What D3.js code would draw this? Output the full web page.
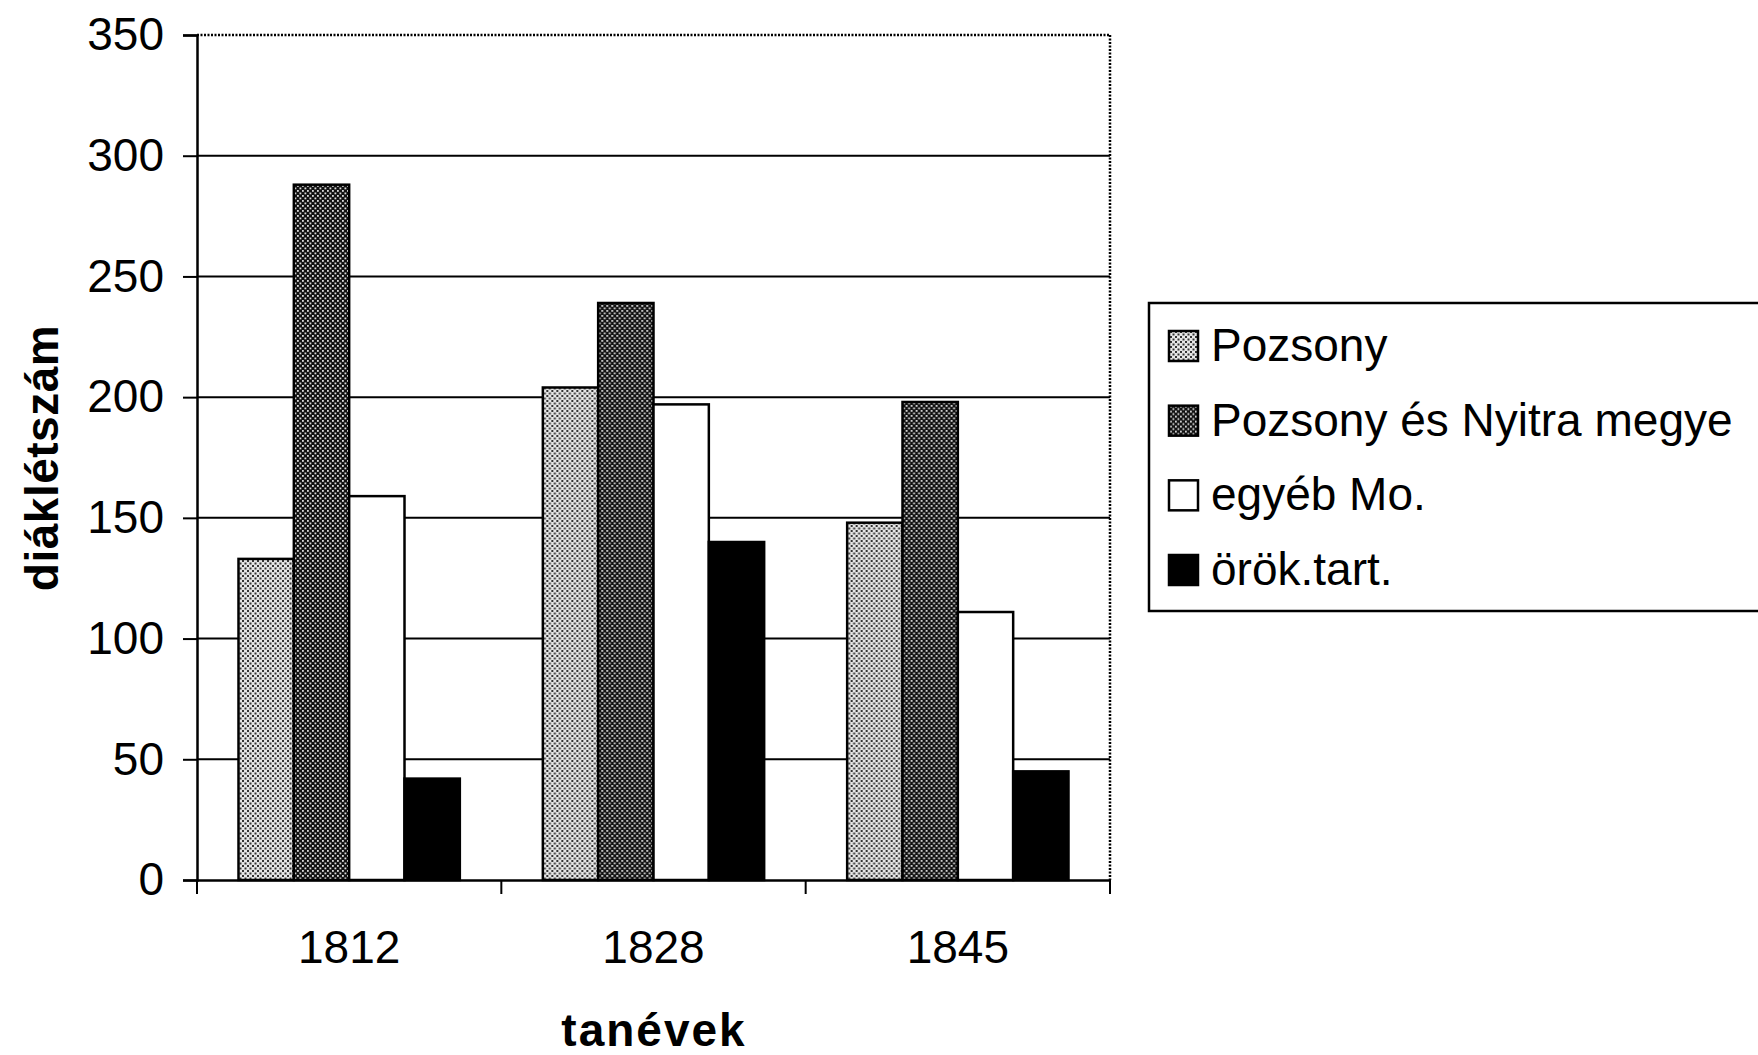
<!DOCTYPE html>
<html>
<head>
<meta charset="utf-8">
<script src="https://cdn.jsdelivr.net/npm/d3@7"></script>
<style>
  html, body { margin: 0; padding: 0; background: #fff; }
  svg { display: block; }
  text { font-family: "Liberation Sans", Arial, sans-serif; fill: #000; }
</style>
</head>
<body>
<svg id="chart" width="1758" height="1055"></svg>
<script>
const years = ["1812", "1828", "1845"];
const seriesNames = ["Pozsony", "Pozsony és Nyitra megye", "egyéb Mo.", "örök.tart."];
const pozsony = [133, 204, 148];
const pozsonyNyitra = [288, 239, 198];
const egyebMo = [159, 197, 111];
const orokTart = [42, 140, 45];
const yTicks = [0, 50, 100, 150, 200, 250, 300, 350];
const xTitle = "tanévek";
const yTitle = "diáklétszám";

(function () {
const seriesValues = [pozsony, pozsonyNyitra, egyebMo, orokTart];
const fills = ["url(#patLight)", "url(#patDark)", "#ffffff", "#000000"];

const svg = d3.select("#chart");
const defs = svg.append("defs");

const pl = defs.append("pattern").attr("id", "patLight")
  .attr("patternUnits", "userSpaceOnUse").attr("width", 5).attr("height", 5);
pl.append("rect").attr("width", 5).attr("height", 5).attr("fill", "#e6e6e6");
pl.append("rect").attr("x", 0).attr("y", 0).attr("width", 2).attr("height", 2).attr("fill", "#333");
pl.append("rect").attr("x", 2.5).attr("y", 2.5).attr("width", 2).attr("height", 2).attr("fill", "#333");

const pd = defs.append("pattern").attr("id", "patDark")
  .attr("patternUnits", "userSpaceOnUse").attr("width", 5).attr("height", 5);
pd.append("rect").attr("width", 5).attr("height", 5).attr("fill", "#111");
pd.append("rect").attr("x", 0).attr("y", 0).attr("width", 1.8).attr("height", 1.8).attr("fill", "#ddd");
pd.append("rect").attr("x", 2.5).attr("y", 2.5).attr("width", 1.8).attr("height", 1.8).attr("fill", "#ddd");

const pLeft = 197, pRight = 1110, pTop = 35, pBottom = 880;

const x = d3.scaleBand().domain(years).range([pLeft, pRight]).paddingInner(0).paddingOuter(0);
const xs = d3.scaleBand().domain(seriesNames).range([0, x.bandwidth()]).paddingInner(0).paddingOuter(0.75);
const y = d3.scaleLinear().domain([0, 350]).range([pBottom, pTop]);

svg.append("g").selectAll("line").data(yTicks.filter(d => d > 0 && d < 350)).join("line")
  .attr("x1", pLeft).attr("x2", pRight)
  .attr("y1", d => y(d)).attr("y2", d => y(d))
  .attr("stroke", "#000").attr("stroke-width", 2);

svg.append("line").attr("x1", pLeft).attr("x2", pRight).attr("y1", y(350)).attr("y2", y(350))
  .attr("stroke", "#000").attr("stroke-width", 2.5).attr("stroke-dasharray", "2,1.5");
svg.append("line").attr("x1", pRight).attr("x2", pRight).attr("y1", y(350)).attr("y2", pBottom)
  .attr("stroke", "#000").attr("stroke-width", 2.5).attr("stroke-dasharray", "2,1.5");

const groups = svg.append("g").selectAll("g").data(years).join("g")
  .attr("transform", d => `translate(${x(d)},0)`);
groups.selectAll("rect").data((yr, i) => seriesNames.map((s, j) => ({ s, j, v: seriesValues[j][i] })))
  .join("rect")
  .attr("x", d => xs(d.s))
  .attr("width", xs.bandwidth())
  .attr("y", d => y(d.v))
  .attr("height", d => y(0) - y(d.v))
  .attr("fill", d => fills[d.j])
  .attr("stroke", "#000").attr("stroke-width", 2.5);

const yAxis = d3.axisLeft(y).tickValues(yTicks).tickSize(14).tickPadding(19).tickFormat(d3.format("d"));
const gy = svg.append("g").attr("transform", `translate(${pLeft},0)`).call(yAxis);
gy.select(".domain").attr("stroke", "#000").attr("stroke-width", 2.5);
gy.selectAll(".tick line").attr("stroke", "#000").attr("stroke-width", 2);
gy.selectAll(".tick text").attr("font-size", 46).attr("font-family", "Liberation Sans, Arial, sans-serif").attr("fill", "#000");

const xAxis = d3.axisBottom(x).tickSize(0).tickPadding(50);
const gx = svg.append("g").attr("transform", `translate(0,${pBottom})`).call(xAxis);
gx.select(".domain").attr("stroke", "#000").attr("stroke-width", 2.5);
gx.selectAll(".tick text").attr("font-size", 46).attr("font-family", "Liberation Sans, Arial, sans-serif").attr("fill", "#000");
const boundaries = years.map(d => x(d)).concat([x(years[years.length - 1]) + x.bandwidth()]);
svg.append("g").selectAll("line").data(boundaries).join("line")
  .attr("x1", d => d).attr("x2", d => d).attr("y1", pBottom).attr("y2", pBottom + 14)
  .attr("stroke", "#000").attr("stroke-width", 2);

svg.append("text").attr("x", 654).attr("y", 1046).attr("text-anchor", "middle")
  .attr("font-size", 46).attr("font-weight", "bold").attr("letter-spacing", "2px")
  .text(xTitle);
svg.append("text").attr("transform", "translate(58,458) rotate(-90)").attr("text-anchor", "middle")
  .attr("font-size", 46).attr("font-weight", "bold").attr("letter-spacing", "0.5px")
  .text(yTitle);

const lg = svg.append("g");
lg.append("rect").attr("x", 1149).attr("y", 303).attr("width", 700).attr("height", 308)
  .attr("fill", "#fff").attr("stroke", "#000").attr("stroke-width", 2.5);
const rowY = d3.scalePoint().domain(seriesNames).range([361, 585]);
const items = lg.selectAll("g.item").data(seriesNames).join("g").attr("class", "item")
  .attr("transform", d => `translate(0,${rowY(d)})`);
items.append("rect").attr("x", 1169).attr("y", -30).attr("width", 29).attr("height", 30)
  .attr("fill", (d, i) => fills[i]).attr("stroke", "#000").attr("stroke-width", 2.5);
items.append("text").attr("x", 1211).attr("y", 0).attr("font-size", 46).text(d => d);
})();
</script>
</body>
</html>
